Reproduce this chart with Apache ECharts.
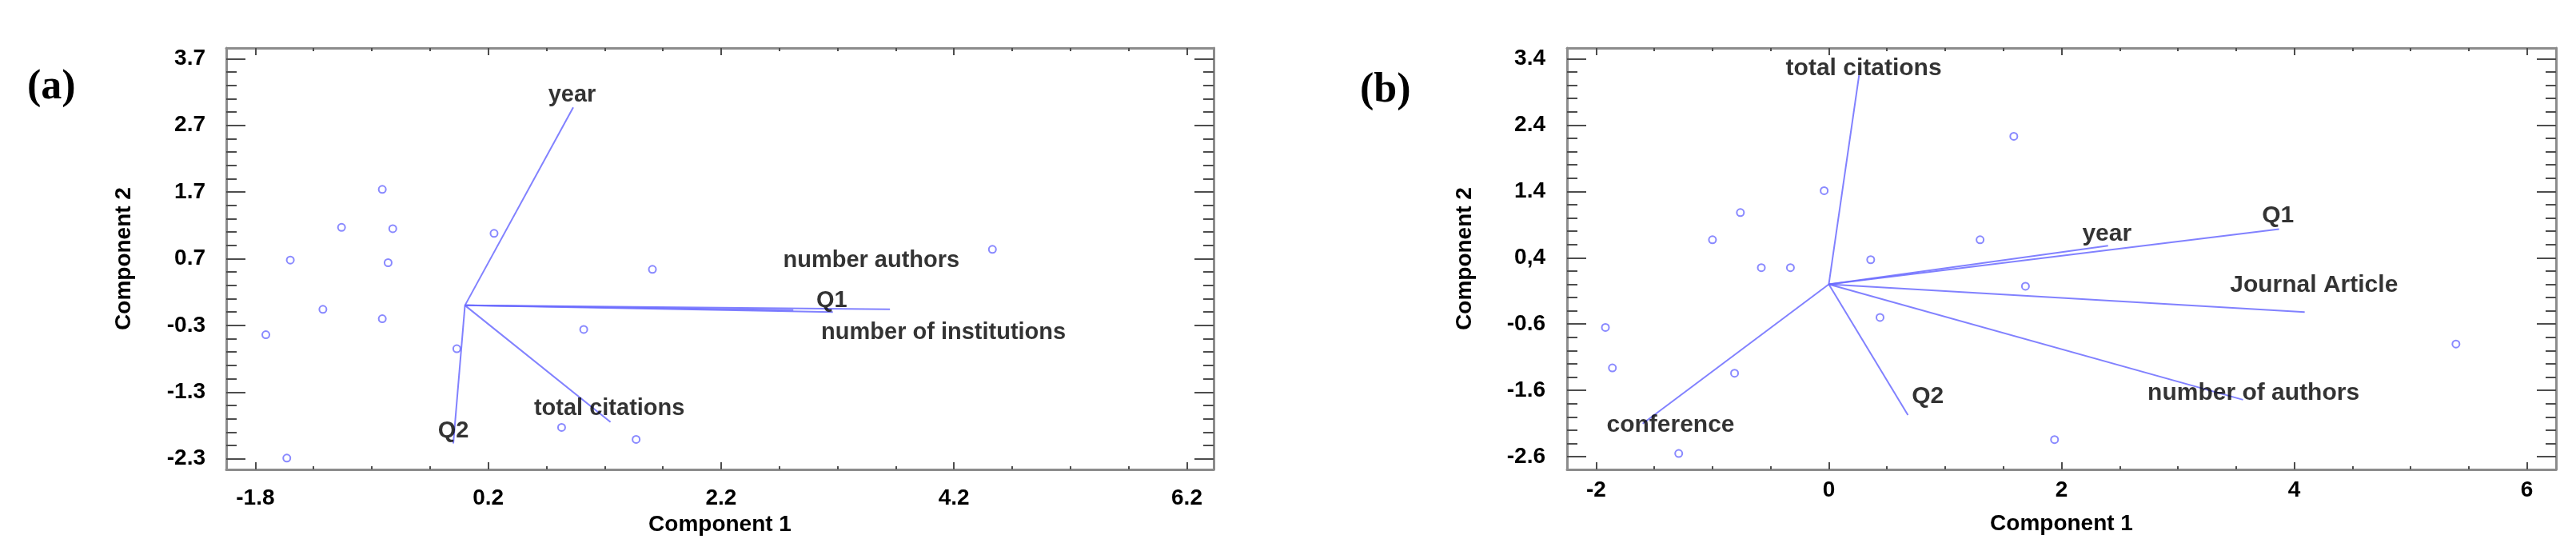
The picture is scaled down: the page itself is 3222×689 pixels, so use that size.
<!DOCTYPE html>
<html>
<head>
<meta charset="utf-8">
<title>Biplots</title>
<script src="https://cdn.jsdelivr.net/npm/echarts@6/dist/echarts.min.js"></script>
<style>
  html, body { margin: 0; padding: 0; background: #fff; }
  #chart { width: 3222px; height: 689px; }
</style>
</head>
<body>
<div id="chart"></div>
<script>
// ---- panel (a) ----
var xTicksA = [-1.8, 0.2, 2.2, 4.2, 6.2];
var yTicksA = [-2.3, -1.3, -0.3, 0.7, 1.7, 2.7, 3.7];
var yTickTextA = ['-2.3', '-1.3', '-0.3', '0.7', '1.7', '2.7', '3.7'];
var xTickTextA = ['-1.8', '0.2', '2.2', '4.2', '6.2'];

var pointsA = [
    [-0.71, 1.74], [-1.06, 1.17], [-0.62, 1.15], [0.25, 1.08], [-1.50, 0.68],
    [-0.66, 0.64], [-1.22, -0.06], [-0.71, -0.20], [-1.71, -0.44], [-0.07, -0.65],
    [-1.53, -2.29], [1.61, 0.54], [1.02, -0.36], [0.83, -1.83], [1.47, -2.01],
    [4.53, 0.84]
];
var vecNamesA = ['year', 'total citations', 'Q2', 'number authors', 'number of institutions', 'Q1'];
var vecEndsA = [[0.93, 2.97], [1.25, -1.75], [-0.10, -2.07], [2.82, -0.07], [3.16, -0.10], [3.65, -0.06]];
var vecLabelPosA = [[0.92, 3.15], [1.24, -1.55], [-0.10, -1.89], [3.49, 0.67], [4.11, -0.41], [3.15, 0.07]];

// ---- panel (b) ----
var xTicksB = [-2, 0, 2, 4, 6];
var xTickTextB = ['-2', '0', '2', '4', '6'];
var yTicksB = [-2.6, -1.6, -0.6, 0.4, 1.4, 2.4, 3.4];
var yTickTextB = ['-2.6', '-1.6', '-0.6', '0,4', '1.4', '2.4', '3.4'];

var pointsB = [
    [-1.92, -0.65], [-1.86, -1.26], [-1.00, 0.67], [-0.76, 1.08], [-0.58, 0.25],
    [-0.33, 0.25], [-0.81, -1.34], [-1.29, -2.55], [-0.04, 1.41], [0.36, 0.37],
    [0.44, -0.50], [1.59, 2.23], [1.30, 0.67], [1.69, -0.03], [5.39, -0.90],
    [1.94, -2.34]
];
var vecNamesB = ['total citations', 'Q1', 'year', 'Journal Article', 'number of authors', 'Q2', 'conference'];
var vecEndsB = [[0.26, 3.15], [3.87, 0.83], [2.40, 0.58], [4.09, -0.42], [3.56, -1.74], [0.68, -1.97], [-1.60, -2.10]];
var vecLabelPosB = [[0.30, 3.25], [3.86, 1.03], [2.39, 0.75], [4.17, -0.02], [3.65, -1.64], [0.85, -1.69], [-1.36, -2.13]];

var BLUE = '#6b6bff';
var AXIS_GREY = '#8c8c8c';
var TICK_GREY = '#4d4d4d';
var FONT = 'Liberation Sans, Arial, sans-serif';

// minor tick positions between (and around) the labelled ticks
function minorTicks(majors, parts, min, max) {
    var step = (majors[1] - majors[0]) / parts;
    var out = [];
    var v = majors[0];
    while (v - step > min) v -= step;
    for (; v <= max + 1e-9; v += step) {
        out.push(Math.round(v * 1000) / 1000);
    }
    return out;
}

function labelText(ticks, texts) {
    return function (v) {
        for (var i = 0; i < ticks.length; i++) {
            if (Math.abs(ticks[i] - v) < 1e-6) return texts[i];
        }
        return '';
    };
}

// four axes per dimension: main (labels + long ticks) and minor, on both sides
function makeAxes(dim, gridIndex, range, ticks, texts, parts, opts) {
    var sides = dim === 'x' ? ['bottom', 'top'] : ['left', 'right'];
    var minors = minorTicks(ticks, parts, range[0], range[1]);
    var axes = [];
    sides.forEach(function (side, s) {
        axes.push({
            type: 'value',
            gridIndex: gridIndex,
            position: side,
            min: range[0],
            max: range[1],
            splitLine: { show: false },
            axisLine: { show: true, onZero: false, lineStyle: { color: AXIS_GREY, width: 3 } },
            axisTick: {
                show: true, inside: true, customValues: ticks,
                length: opts.majorLen, lineStyle: { color: TICK_GREY, width: 2 }
            },
            axisLabel: {
                show: s === 0, customValues: ticks, formatter: labelText(ticks, texts),
                margin: opts.labelMargin, fontFamily: FONT, fontWeight: 'bold', fontSize: 28, color: '#000'
            },
            name: s === 0 ? opts.name : '',
            nameLocation: 'middle',
            nameGap: opts.nameGap,
            nameTextStyle: { fontFamily: FONT, fontWeight: 'bold', fontSize: 28, color: '#000' }
        });
        axes.push({
            type: 'value',
            gridIndex: gridIndex,
            position: side,
            min: range[0],
            max: range[1],
            splitLine: { show: false },
            axisLine: { show: false, onZero: false },
            axisTick: {
                show: true, inside: true, customValues: minors,
                length: opts.minorLen, lineStyle: { color: TICK_GREY, width: 2 }
            },
            axisLabel: { show: false }
        });
    });
    return axes;
}

var xRangeA = [-2.05, 6.43], yRangeA = [-2.46, 3.86];
var xRangeB = [-2.25, 6.25], yRangeB = [-2.79, 3.56];

var xAxes = []
    .concat(makeAxes('x', 0, xRangeA, xTicksA, xTickTextA, 4,
        { majorLen: 9, minorLen: 4, labelMargin: 22, name: 'Component 1', nameGap: 55 }))
    .concat(makeAxes('x', 1, xRangeB, xTicksB, xTickTextB, 4,
        { majorLen: 9, minorLen: 4, labelMargin: 12, name: 'Component 1', nameGap: 54 }));
var yAxes = []
    .concat(makeAxes('y', 0, yRangeA, yTicksA, yTickTextA, 5,
        { majorLen: 24, minorLen: 13, labelMargin: 26, name: 'Component 2', nameGap: 114 }))
    .concat(makeAxes('y', 1, yRangeB, yTicksB, yTickTextB, 5,
        { majorLen: 24, minorLen: 13, labelMargin: 27, name: 'Component 2', nameGap: 114 }));

function panelSeries(axisIndex, points, names, ends, labelPos, labelSize) {
    return [
        {
            type: 'lines',
            coordinateSystem: 'cartesian2d',
            xAxisIndex: axisIndex,
            yAxisIndex: axisIndex,
            lineStyle: { color: BLUE, width: 2, opacity: 0.85 },
            silent: true,
            data: ends.map(function (e) { return { coords: [[0, 0], e] }; })
        },
        {
            type: 'scatter',
            xAxisIndex: axisIndex,
            yAxisIndex: axisIndex,
            symbol: 'circle',
            symbolSize: 9,
            itemStyle: { color: 'rgba(0,0,0,0)', borderColor: BLUE, borderWidth: 2 },
            silent: true,
            data: points
        },
        {
            type: 'scatter',
            xAxisIndex: axisIndex,
            yAxisIndex: axisIndex,
            symbolSize: 1,
            itemStyle: { color: 'rgba(0,0,0,0)' },
            silent: true,
            label: {
                show: true, position: 'inside', formatter: '{b}',
                fontFamily: FONT, fontWeight: 'bold', fontSize: labelSize, color: '#000'
            },
            data: names.map(function (n, i) { return { name: n, value: labelPos[i] }; })
        }
    ];
}

var chart = echarts.init(document.getElementById('chart'));
chart.setOption({
    animation: false,
    backgroundColor: '#fff',
    title: [
        { text: '(a)', left: 34, top: 84, padding: 0,
          textStyle: { fontFamily: 'Liberation Serif, serif', fontSize: 52, fontWeight: 'bold', color: '#000' } },
        { text: '(b)', left: 1701, top: 88, padding: 0,
          textStyle: { fontFamily: 'Liberation Serif, serif', fontSize: 52, fontWeight: 'bold', color: '#000' } }
    ],
    grid: [
        { left: 283, top: 60, width: 1235, height: 527 },
        { left: 1960, top: 60, width: 1237, height: 527 }
    ],
    xAxis: xAxes,
    yAxis: yAxes,
    series: []
        .concat(panelSeries(0, pointsA, vecNamesA, vecEndsA, vecLabelPosA, 29))
        .concat(panelSeries(4, pointsB, vecNamesB, vecEndsB, vecLabelPosB, 30))
});
</script>
</body>
</html>
